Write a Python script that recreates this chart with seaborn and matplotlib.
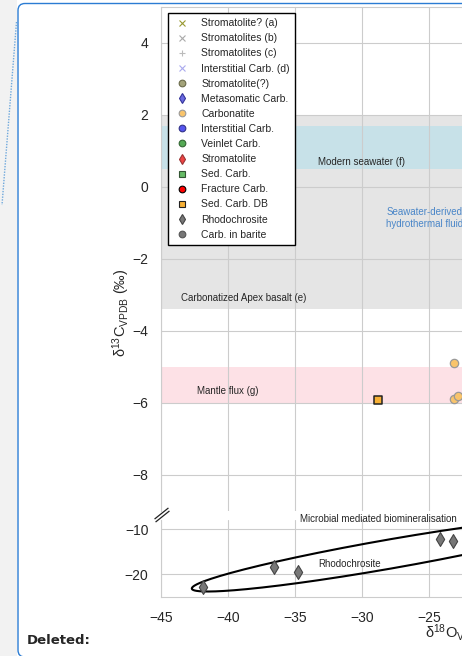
import numpy as np
import pandas as pd
import matplotlib.pyplot as plt
import seaborn as sns
from matplotlib.lines import Line2D
from matplotlib.patches import FancyBboxPatch, Rectangle
from matplotlib.transforms import IdentityTransform

# legend entries (same order as the legend box)
series_names = [
    "Stromatolite? (a)", "Stromatolites (b)", "Stromatolites (c)", "Interstitial Carb. (d)",
    "Stromatolite(?)", "Metasomatic Carb.", "Carbonatite", "Interstitial Carb.",
    "Veinlet Carb.", "Stromatolite", "Sed. Carb.", "Fracture Carb.", "Sed. Carb. DB",
    "Rhodochrosite", "Carb. in barite",
]
series_markers = ["x", "x", "+", "x", "o", "d", "o", "o", "o", "d", "s", "o", "s", "d", "o"]
series_colors = [
    "#999933", "#aaaaaa", "#bbbbbb", "#aaaaee", "#a3a37a", "#6a6ae0", "#f9c46b", "#5555ee",
    "#55aa55", "#ee4444", "#66bb66", "#ff0000", "#f7b035", "#777777", "#777777",
]
series_edges = [
    "#999933", "#aaaaaa", "#bbbbbb", "#aaaaee", "#6b6b4b", "#333399", "#999999", "#333388",
    "#336633", "#993333", "#335533", "#000000", "#222222", "#444444", "#555555",
]

# points visible in the (cropped) view, d18O vs d13C
carbonatite_x = [-23.1, -23.1, -22.8]
carbonatite_y = [-4.88, -5.88, -5.80]
sed_carb_db_x = [-28.8]
sed_carb_db_y = [-5.92]
rhodo_x = [-41.9, -36.6, -34.8, -24.2, -23.2]
rhodo_y = [-22.9, -18.4, -19.4, -12.2, -12.7]

# reference d13C ranges
apex_basalt = (-3.4, 2.0)
modern_seawater = (0.5, 1.7)
mantle_flux = (-6.0, -5.0)

# rhodochrosite field (sheared ellipse in data units)
ell_cx, ell_cy = -28.0, -15.55
ell_half_x, ell_height, ell_slope = 14.7, 6.5, 0.515

W, H = 462, 656

sns.set_style("whitegrid")
plt.rcParams["font.family"] = ["Liberation Sans", "DejaVu Sans"]
plt.rcParams["mathtext.fontset"] = "custom"
plt.rcParams["mathtext.rm"] = "Liberation Sans"
plt.rcParams["mathtext.it"] = "Liberation Sans:italic"
plt.rcParams["mathtext.default"] = "regular"

fig = plt.figure(figsize=(W / 100, H / 100), dpi=100)
fig.patch.set_facecolor("white")

x_right = 764
ax1 = fig.add_axes([161 / W, 1 - 511 / H, (x_right - 161) / W, 504 / H])
ax2 = fig.add_axes([161 / W, 1 - 597 / H, (x_right - 161) / W, 77 / H], sharex=ax1)

ax1.set_xlim(-45, 0)
ax1.set_ylim(-9, 5)
ax2.set_ylim(-25, -8)

# bands
ax1.axhspan(*apex_basalt, color="#e5e5e5", zorder=0.2, lw=0)
ax1.axhspan(*modern_seawater, color="#c7e1e8", zorder=0.3, lw=0)
ax1.axhspan(*mantle_flux, color="#fde1e6", zorder=0.3, lw=0)

ax1.text(-30, 0.69, "Modern seawater (f)", fontsize=7, ha="center", va="center")
ax1.text(-28.2, -0.85, "Seawater-derived\nhydrothermal fluid", fontsize=7, ha="left",
         va="center", color="#4a86c8", linespacing=1.25)
ax1.text(-43.5, -3.08, "Carbonatized Apex basalt (e)", fontsize=7, ha="left", va="center")
ax1.text(-42.3, -5.67, "Mantle flux (g)", fontsize=7, ha="left", va="center")

i = series_names.index("Carbonatite")
sns.scatterplot(x=carbonatite_x, y=carbonatite_y, ax=ax1, marker="o", s=36,
                color=series_colors[i], edgecolor=series_edges[i], linewidth=0.9, zorder=3)
i = series_names.index("Sed. Carb. DB")
sns.scatterplot(x=sed_carb_db_x, y=sed_carb_db_y, ax=ax1, marker="s", s=34,
                color=series_colors[i], edgecolor=series_edges[i], linewidth=1.1, zorder=3)
i = series_names.index("Rhodochrosite")
sns.scatterplot(x=rhodo_x, y=rhodo_y, ax=ax2, marker="d", s=50,
                color=series_colors[i], edgecolor=series_edges[i], linewidth=0.8, zorder=3)

t = np.linspace(0, 2 * np.pi, 400)
ex = ell_cx + ell_half_x * np.cos(t)
ey = ell_cy + ell_slope * ell_half_x * np.cos(t) + ell_height / 2 * np.sin(t)
ax2.plot(ex, ey, color="black", lw=1.5, zorder=2)
ax2.text(-33.3, -17.8, "Rhodochrosite", fontsize=7, ha="left", va="center")
ax2.text(-34.6, -7.8, "Microbial mediated biomineralisation", fontsize=7, ha="left",
         va="center", clip_on=False)

# axes cosmetics
ax1.set_yticks([-8, -6, -4, -2, 0, 2, 4])
ax2.set_yticks([-20, -10])
ax2.set_xticks(np.arange(-45, 1, 5))
ax1.tick_params(labelbottom=False, labelsize=10)
ax1.tick_params(axis="y", pad=5.5)
ax2.tick_params(labelsize=10)
ax2.tick_params(axis="y", pad=5.5)
ax2.tick_params(axis="x", pad=6.5)
ax1.spines["bottom"].set_visible(False)
ax2.spines["top"].set_visible(False)
for ax in (ax1, ax2):
    ax.set_xlabel("")
    ax.set_ylabel("")

# axis break marks
kw = dict(marker=[(-1, -0.8), (1, 0.8)], markersize=10, linestyle="none", color="#222222",
          mec="#222222", mew=0.9, clip_on=False)
ax2.plot([0, 0.002], [1.095, 1.05], transform=ax2.transAxes, **kw)

fig.text(121 / W, 1 - 313 / H, "δ$^{13}$C$_{VPDB}$ (‰)", rotation=90, fontsize=10.5,
         ha="center", va="center")
fig.text(425 / W, 1 - 633 / H, "δ$^{18}$O$_{VPDB}$ (‰)", fontsize=10.5, ha="left", va="center")

# legend
handles = []
for name, m, c, e in zip(series_names, series_markers, series_colors, series_edges):
    handles.append(Line2D([], [], marker=m, linestyle="none", markersize=4.8,
                          markerfacecolor=c, markeredgecolor=e, markeredgewidth=0.8, label=name))
leg = fig.legend(handles=handles, loc="upper left", bbox_to_anchor=(168 / W, 1 - 13 / H),
                 bbox_transform=fig.transFigure, borderaxespad=0, fontsize=7.5, frameon=True,
                 fancybox=False, framealpha=1, edgecolor="black", labelspacing=0.49,
                 handlelength=1.6, handletextpad=1.1, borderpad=0.5)
leg.get_frame().set_linewidth(1.0)

# page furniture around the chart
fig.add_artist(Rectangle((0, 0), 17, H, transform=IdentityTransform(), facecolor="#f2f2f2",
                         edgecolor="none", zorder=-1))
fig.add_artist(FancyBboxPatch((18, -1), 480, H - 2.5, boxstyle="round,pad=0,rounding_size=7",
                              transform=IdentityTransform(), facecolor="none",
                              edgecolor="#2b7cd3", lw=1.0, zorder=5))
fig.add_artist(Line2D([16.5, 2], [H - 22, H - 205], transform=IdentityTransform(),
                      color="#6fa8dc", lw=1.0, linestyle=(0, (1, 1))))
fig.text(27 / W, 1 - 641 / H, "Deleted:", fontsize=9.5, fontweight="bold",
         family="DejaVu Sans", ha="left", va="center")

fig.savefig("out.png", dpi=100)
